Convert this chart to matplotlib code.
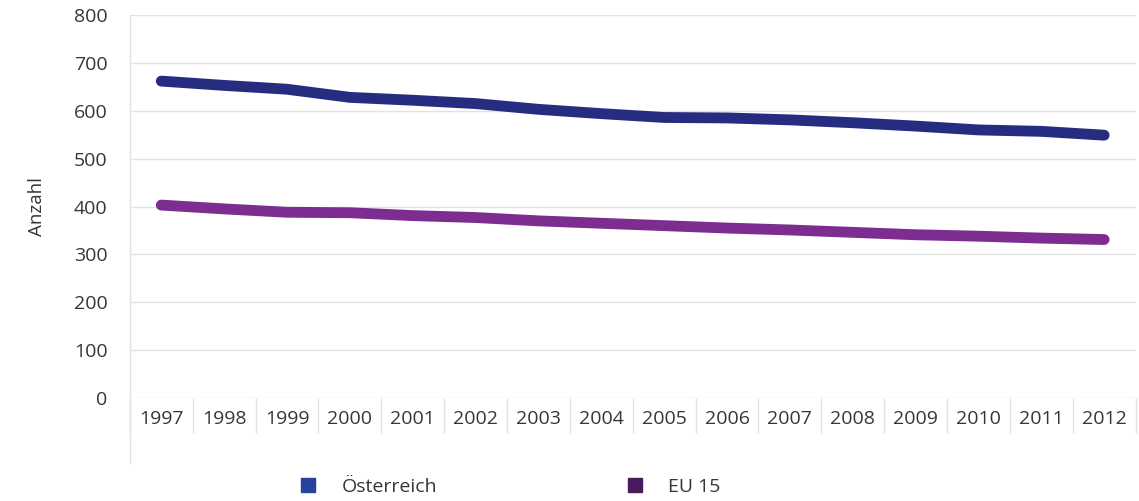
import matplotlib.pyplot as plt
from matplotlib.patches import Patch
from matplotlib.ticker import FixedLocator

years = ["1997", "1998", "1999", "2000", "2001", "2002", "2003", "2004",
         "2005", "2006", "2007", "2008", "2009", "2010", "2011", "2012"]
oesterreich = [662, 653, 645, 628, 622, 615, 603, 594,
               586, 585, 581, 575, 568, 560, 557, 549]
eu15 = [403, 395, 388, 387, 381, 377, 370, 365,
        360, 355, 351, 346, 341, 338, 334, 331]
y_ticks = [0, 100, 200, 300, 400, 500, 600, 700, 800]

plt.rcParams["font.family"] = ["Open Sans", "DejaVu Sans"]
text_color = "#363636"
grid_color = "#e2e2e2"
fs = 14

fig = plt.figure(figsize=(11.39, 5.01), dpi=100)
ax = fig.add_axes([0.114, 0.2056, 0.883, 0.7644])

x = list(range(len(years)))
ax.plot(x, oesterreich, color="#262c80", lw=7.8, solid_capstyle="round", zorder=3)
ax.plot(x, eu15, color="#7d2c90", lw=7.8, solid_capstyle="round", zorder=3)

ax.set_xlim(-0.5, len(years) - 0.5)
ax.set_ylim(0, 800)
ax.set_yticks(y_ticks)
ax.set_yticklabels([str(v) for v in y_ticks], color=text_color, fontsize=fs)
ax.set_xticks(x)
ax.set_xticklabels(years, color=text_color, fontsize=fs)
ax.xaxis.set_minor_locator(FixedLocator([i - 0.5 for i in range(len(years) + 1)]))
ax.tick_params(axis="x", which="major", length=0, pad=9)
ax.tick_params(axis="x", which="minor", length=25, color=grid_color, width=1)
ax.tick_params(axis="y", length=0, pad=16)
ax.grid(axis="y", color=grid_color, lw=1)
ax.set_axisbelow(True)
for side in ["top", "right", "bottom", "left"]:
    ax.spines[side].set_visible(False)
ax.plot([0, 0], [-0.17, 1], transform=ax.transAxes, color=grid_color,
        lw=1, clip_on=False)

ax.set_ylabel("Anzahl", color=text_color, fontsize=13.5, labelpad=20)

handles = [Patch(color="#23449a", label="Österreich"),
           Patch(color="#4a1a5e", label="EU 15")]
fig.legend(handles=handles, loc="center", bbox_to_anchor=(0.4487, 0.028),
           ncol=2, frameon=False, fontsize=fs, labelcolor=text_color,
           handlelength=0.7, handleheight=0.7, columnspacing=9.85, handletextpad=1.35)

fig.savefig("out.png", dpi=100)
